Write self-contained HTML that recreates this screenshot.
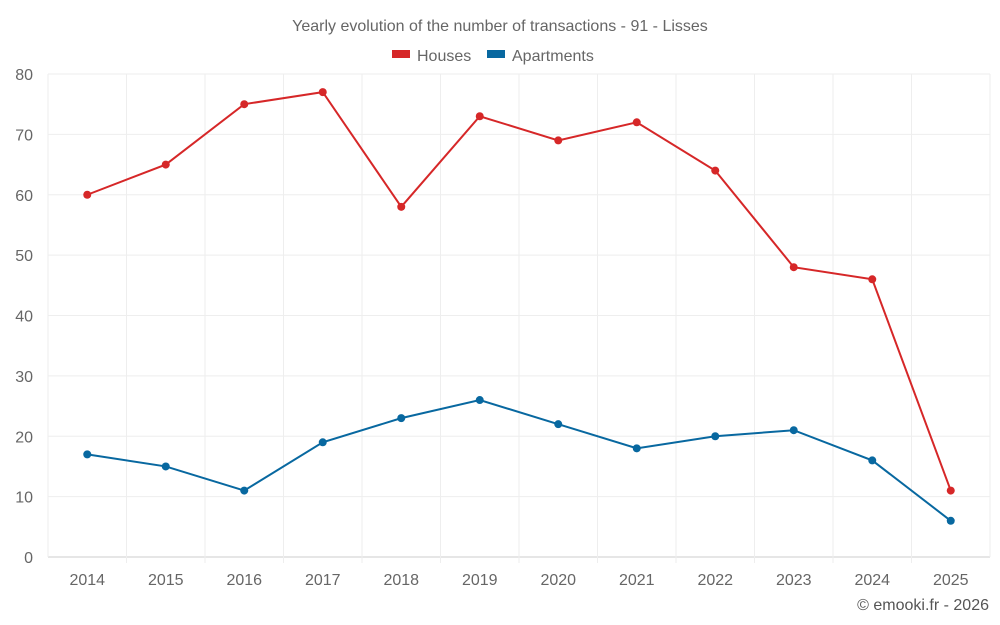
<!DOCTYPE html>
<html><head><meta charset="utf-8"><style>
body{margin:0;background:#fff;}
svg{display:block;font-family:"Liberation Sans",sans-serif;}
</style></head><body>
<svg id="chart" width="1000" height="625">
<text x="500" y="31" text-anchor="middle" font-size="16" fill="#666">Yearly evolution of the number of transactions - 91 - Lisses</text>
<g>
<g><rect x="392" y="50" width="18" height="8" fill="#d62728"/><text x="417" y="61" font-size="16" fill="#666">Houses</text></g>
<g><rect x="487" y="50" width="18" height="8" fill="#0868a0"/><text x="512" y="61" font-size="16" fill="#666">Apartments</text></g>
</g>
<g id="grid"></g><g id="axes"></g><g id="series"></g>
<text x="989" y="610" text-anchor="end" font-size="16" fill="#555">© emooki.fr - 2026</text>
</svg>
<script>
const years=["2014","2015","2016","2017","2018","2019","2020","2021","2022","2023","2024","2025"];
const houses=[60,65,75,77,58,73,69,72,64,48,46,11];
const apartments=[17,15,11,19,23,26,22,18,20,21,16,6];
const yTicks=[0,10,20,30,40,50,60,70,80];
const NS="http://www.w3.org/2000/svg";
const L=48,R=990,T=74,B=557,yMax=80;
const step=(R-L)/years.length;
const xs=i=>L+step*(i+0.5);
const ys=v=>B-(B-T)*v/yMax;
function mk(t,a,p){const e=document.createElementNS(NS,t);for(const k in a)e.setAttribute(k,a[k]);p.appendChild(e);return e;}
const grid=document.getElementById('grid'),axes=document.getElementById('axes'),ser=document.getElementById('series');
yTicks.forEach(v=>{
 const l=mk('line',{x1:L,x2:R,y1:ys(v),y2:ys(v),stroke:v===0?'#ccc':'#eee'},grid);
 
 
 const t=mk('text',{x:33,y:ys(v)+6,'text-anchor':'end','font-size':16,fill:'#666'},axes);
 t.textContent=v;
 
 
});
for(let i=0;i<=years.length;i++){
 const x=L+step*i;
 const l=mk('line',{x1:x,x2:x,y1:T,y2:B+(i===0||i===years.length?0:6),stroke:'#eee'},grid);
 
 
}
years.forEach((y,i)=>{
 const t=mk('text',{x:xs(i),y:585,'text-anchor':'middle','font-size':16,fill:'#666'},axes);
 t.textContent=y;
 
 
});
function draw(data,color,name){
 const p=mk('polyline',{points:data.map((v,i)=>xs(i)+','+ys(v)).join(' '),fill:'none',stroke:color,'stroke-width':2},ser);
 
 
 data.forEach((v,i)=>{
  const c=mk('circle',{cx:xs(i),cy:ys(v),r:4,fill:color},ser);
  
  
 });
}
draw(houses,'#d62728','houses');
draw(apartments,'#0868a0','apartments');
</script>
</body></html>
